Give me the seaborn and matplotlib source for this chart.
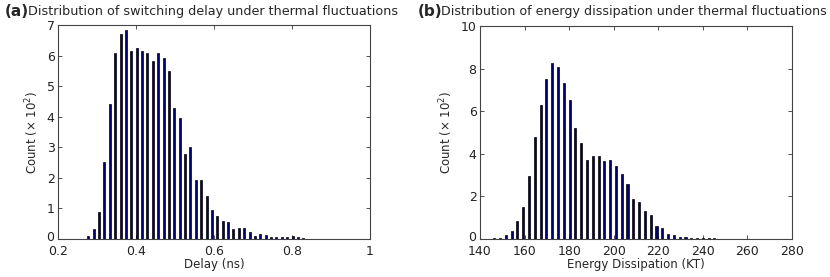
import numpy as np
import pandas as pd
import matplotlib
matplotlib.use("Agg")
import matplotlib.pyplot as plt
import matplotlib.transforms as mtrans
import seaborn as sns

# ---- Panel (a): switching delay histogram (counts in units of 10^2) ----
delay_start = 0.2778
delay_step = 0.01378
delay_counts = [0.09, 0.34, 0.88, 2.52, 4.40, 6.09, 6.72, 6.83, 6.15, 6.26,
                6.15, 6.07, 5.82, 6.09, 5.92, 5.51, 4.27, 3.97, 2.79, 3.01,
                1.94, 1.94, 1.41, 0.96, 0.76, 0.60, 0.55, 0.33, 0.35, 0.35,
                0.23, 0.11, 0.16, 0.13, 0.07, 0.07, 0.07, 0.07, 0.09, 0.05,
                0.03, 0.0, 0.0, 0.015, 0.015, 0.0, 0.015, 0.0, 0.0, 0.015]
delay_ticks = [0.2, 0.4, 0.6, 0.8, 1]
delay_tick_labels = ["0.2", "0.4", "0.6", "0.8", "1"]

# ---- Panel (b): energy dissipation histogram (counts in units of 10^2) ----
energy_start = 146.4
energy_step = 2.6
energy_counts = [0.05, 0.05, 0.17, 0.37, 0.84, 1.50, 2.98, 4.77, 6.27, 7.53,
                 8.28, 8.06, 7.33, 6.52, 5.22, 4.50, 3.72, 3.92, 3.89, 3.66,
                 3.72, 3.42, 3.06, 2.56, 1.88, 1.72, 1.30, 1.14, 0.59, 0.52,
                 0.22, 0.20, 0.08, 0.08, 0.05, 0.03, 0.05, 0.03, 0.03, 0.0,
                 0.02, 0.0, 0.0, 0.02, 0.0, 0.0, 0.02, 0.0, 0.0, 0.02]
energy_ticks = [140, 160, 180, 200, 220, 240, 260, 280]
energy_tick_labels = ["140", "160", "180", "200", "220", "240", "260", "280"]

sns.set_theme(style="ticks")
plt.rcParams['font.family'] = ['DejaVu Sans']

fig = plt.figure(figsize=(8.30, 2.77), dpi=100)
W, H = 830, 277

def make_ax(l, r, t, b):
    return fig.add_axes([l / W, 1 - b / H, (r - l) / W, (b - t) / H])

ax1 = make_ax(58, 370, 25, 239)
ax2 = make_ax(480, 792, 26, 239)

def draw(ax, start, step, counts, xlim, ylim, xticks, xlabels, yticks, xlabel):
    n = len(counts)
    df = pd.DataFrame({"x": start + step * np.arange(n), "w": counts})
    sns.histplot(data=df, x="x", weights="w", binwidth=step,
                 binrange=(start - step / 2, start + step * (n - 0.5)),
                 shrink=0.36, color="#000070", edgecolor="black",
                 linewidth=0.5, alpha=1.0, ax=ax)
    ax.set_xlim(*xlim)
    ax.set_ylim(*ylim)
    ax.set_xticks(xticks)
    ax.set_xticklabels(xlabels)
    ax.set_yticks(yticks)
    ax.set_yticklabels([str(v) for v in yticks])
    ax.tick_params(direction="in", length=3, width=0.6, top=True, right=True,
                   labelsize=9, color="#333333", labelcolor="#222222")
    ax.tick_params(axis="x", pad=4.5)
    ax.tick_params(axis="y", pad=2.5)
    # nudge the "0" y label up a little so it does not collide with the first x label
    lab0 = ax.get_yticklabels()[0]
    lab0.set_transform(lab0.get_transform() +
                       mtrans.ScaledTranslation(0, 2.5 / 72, fig.dpi_scale_trans))
    for s in ax.spines.values():
        s.set_linewidth(0.8)
        s.set_color("#444444")
        s.set_visible(True)
    ax.set_xlabel(xlabel, fontsize=8.5, labelpad=0)
    ax.set_ylabel(r"Count ($\times$ 10$^2$)", fontsize=8.5, labelpad=4)

draw(ax1, delay_start, delay_step, delay_counts, (0.2, 1.0), (0, 7),
     delay_ticks, delay_tick_labels, list(range(0, 8)), "Delay (ns)")
draw(ax2, energy_start, energy_step, energy_counts, (140, 280), (0, 10),
     energy_ticks, energy_tick_labels, [0, 2, 4, 6, 8, 10], "Energy Dissipation (KT)")

fig.text(5 / W, 1 - 12 / H, "(a)", fontsize=11, fontweight="bold", va="center", ha="left")
fig.text(28 / W, 1 - 12 / H, "Distribution of switching delay under thermal fluctuations",
         fontsize=9.2, va="center", ha="left")
fig.text(418 / W, 1 - 12 / H, "(b)", fontsize=11, fontweight="bold", va="center", ha="left")
fig.text(441 / W, 1 - 12 / H, "Distribution of energy dissipation under thermal fluctuations",
         fontsize=9.1, va="center", ha="left")

fig.savefig("out.png", dpi=100, facecolor="white")
